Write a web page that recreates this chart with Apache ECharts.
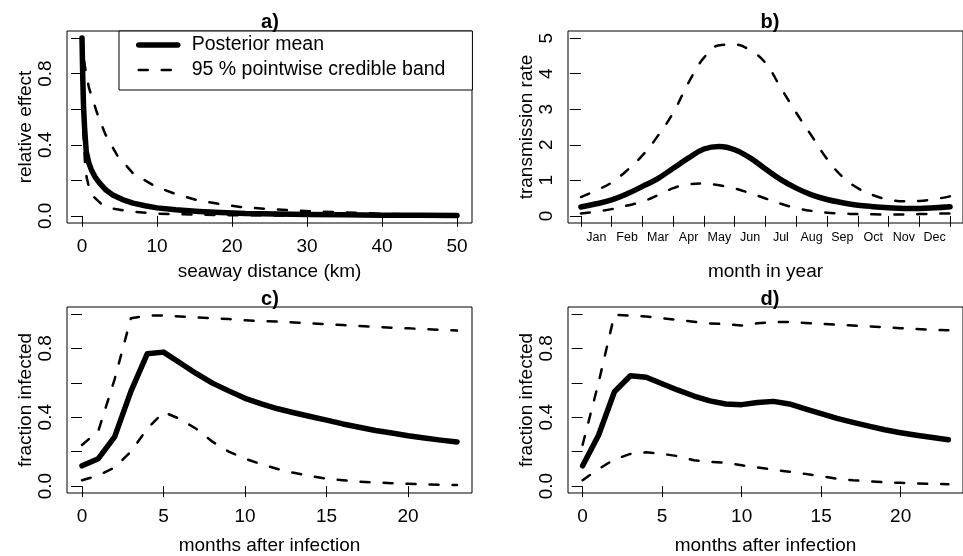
<!DOCTYPE html>
<html>
<head>
<meta charset="utf-8">
<script src="https://cdn.jsdelivr.net/npm/echarts@6/dist/echarts.min.js"></script>
<style>
html,body{margin:0;padding:0;background:#fff;}
#chart{width:963px;height:556px;}
</style>
</head>
<body>
<div id="chart"></div>
<script>
// ---------- Panel a: relative effect vs seaway distance ----------
const kmMean = [0, 0.1, 0.2, 0.35, 0.57, 0.9, 1.24, 1.8, 2.35, 3.2, 4.1, 5.4, 6.8, 8.4, 10, 12.5, 15.6, 18.5, 21.8, 26, 30, 35, 40, 45, 50];
const meanA  = [1.0, 0.78, 0.62, 0.49, 0.36, 0.30, 0.26, 0.215, 0.184, 0.145, 0.118, 0.092, 0.072, 0.057, 0.045, 0.034, 0.025, 0.019, 0.013, 0.010, 0.008, 0.006, 0.004, 0.003, 0.002];
const kmUpper = [0, 0.35, 0.93, 2.0, 3.1, 4.7, 6.8, 9.8, 12.8, 15.7, 18.6, 21.1, 24.4, 27.6, 31, 34.5, 40, 45, 50];
const upperA  = [1.0, 0.85, 0.72, 0.58, 0.46, 0.34, 0.24, 0.165, 0.118, 0.085, 0.065, 0.05, 0.04, 0.032, 0.025, 0.02, 0.012, 0.008, 0.005];
const kmLower = [0, 0.05, 0.1, 0.2, 0.4, 0.6, 0.85, 1.5, 2.5, 4, 6.5, 10, 15, 20, 30, 40, 50];
const lowerA  = [1.0, 0.85, 0.7, 0.45, 0.3, 0.22, 0.175, 0.11, 0.07, 0.042, 0.025, 0.013, 0.007, 0.004, 0.002, 0.001, 0.0];
const ticksA_x = [0, 10, 20, 30, 40, 50];
const ticks01 = [0, 0.2, 0.4, 0.6, 0.8, 1.0];
const labels01 = [0, 0.4, 0.8];

// ---------- Panel b: transmission rate vs month ----------
const monthNames = ['Jan','Feb','Mar','Apr','May','Jun','Jul','Aug','Sep','Oct','Nov','Dec'];
const monthPos = [0, 0.5, 1, 1.5, 2, 2.5, 3, 3.5, 4, 4.5, 5, 5.5, 6, 6.5, 7, 7.5, 8, 8.5, 9, 9.5, 10, 10.5, 11, 11.5, 12];
const meanB  = [0.25, 0.34, 0.45, 0.62, 0.83, 1.05, 1.34, 1.63, 1.88, 1.95, 1.86, 1.63, 1.32, 1.02, 0.78, 0.59, 0.46, 0.37, 0.30, 0.26, 0.23, 0.21, 0.21, 0.23, 0.26];
const upperB = [0.53, 0.72, 0.94, 1.28, 1.70, 2.25, 2.90, 3.75, 4.45, 4.80, 4.82, 4.66, 4.30, 3.60, 2.90, 2.25, 1.60, 1.10, 0.78, 0.58, 0.46, 0.41, 0.42, 0.47, 0.55];
const lowerB = [0.07, 0.12, 0.19, 0.29, 0.40, 0.58, 0.78, 0.89, 0.91, 0.86, 0.77, 0.64, 0.49, 0.34, 0.22, 0.14, 0.09, 0.065, 0.05, 0.045, 0.04, 0.04, 0.05, 0.06, 0.07];
const ticksB_x = [0,1,2,3,4,5,6,7,8,9,10,11,12];
const labelsB_x = [0.5,1.5,2.5,3.5,4.5,5.5,6.5,7.5,8.5,9.5,10.5,11.5];
const ticksB_y = [0,1,2,3,4,5];

// ---------- Panel c / d: fraction infected vs months after infection ----------
const monthsAfter = [0,1,2,3,4,5,6,7,8,9,10,11,12,13,14,15,16,17,18,19,20,21,22,23];
const meanC  = [0.118, 0.159, 0.286, 0.55, 0.768, 0.778, 0.716, 0.654, 0.598, 0.553, 0.51, 0.478, 0.449, 0.426, 0.404, 0.383, 0.361, 0.342, 0.323, 0.308, 0.292, 0.279, 0.267, 0.256];
const upperC = [0.239, 0.32, 0.62, 0.975, 0.99, 0.99, 0.985, 0.98, 0.975, 0.97, 0.963, 0.958, 0.955, 0.95, 0.945, 0.94, 0.935, 0.93, 0.925, 0.92, 0.916, 0.912, 0.907, 0.903];
const lowerC = [0.034, 0.062, 0.108, 0.20, 0.333, 0.43, 0.39, 0.333, 0.258, 0.20, 0.159, 0.127, 0.099, 0.077, 0.058, 0.043, 0.034, 0.026, 0.021, 0.017, 0.013, 0.01, 0.008, 0.006];
const meanD  = [0.118, 0.295, 0.548, 0.641, 0.632, 0.594, 0.557, 0.523, 0.495, 0.477, 0.473, 0.486, 0.492, 0.477, 0.449, 0.421, 0.393, 0.37, 0.348, 0.327, 0.31, 0.295, 0.282, 0.269];
const upperD = [0.24, 0.6, 0.995, 0.99, 0.985, 0.975, 0.965, 0.955, 0.945, 0.94, 0.932, 0.945, 0.953, 0.953, 0.947, 0.942, 0.937, 0.933, 0.928, 0.922, 0.917, 0.912, 0.908, 0.905];
const lowerD = [0.034, 0.099, 0.155, 0.187, 0.196, 0.187, 0.174, 0.15, 0.14, 0.136, 0.121, 0.108, 0.095, 0.084, 0.071, 0.058, 0.043, 0.034, 0.028, 0.022, 0.019, 0.015, 0.013, 0.011];
const ticksCD_x = [0, 5, 10, 15, 20];

// ---------- text ----------
const panelTitles = ['a)', 'b)', 'c)', 'd)'];
const legendNames = ['Posterior mean', '95 % pointwise credible band'];

const FONT = 'Liberation Sans, Arial, Helvetica, sans-serif';
const pairs = (xs, ys) => xs.map((x, i) => [x, ys[i]]);

const grids = [
  {left: 67,  top: 31,  width: 405, height: 192},
  {left: 568, top: 31,  width: 405, height: 192},
  {left: 67,  top: 307, width: 405, height: 192},
  {left: 568, top: 307, width: 405, height: 192}
].map(g => Object.assign({show: true, borderColor: '#000', borderWidth: 1, backgroundColor: 'transparent', containLabel: false}, g));

function xAxisOf(gi, min, max, tickVals, labelVals, name, fmt, labelSize, labelMargin, nameGap) {
  return {
    type: 'value', gridIndex: gi, min: min, max: max,
    axisLine: {show: false},
    splitLine: {show: false},
    axisTick: {show: true, inside: false, length: 11, lineStyle: {color: '#000', width: 1}, customValues: tickVals},
    axisLabel: {show: true, customValues: labelVals, color: '#000', fontFamily: FONT, fontSize: labelSize, margin: labelMargin, formatter: fmt, hideOverlap: false},
    name: name, nameLocation: 'middle', nameGap: nameGap,
    nameTextStyle: {color: '#000', fontFamily: FONT, fontSize: 19}
  };
}
function yAxisOf(gi, min, max, tickVals, labelVals, name, fmt) {
  return {
    type: 'value', gridIndex: gi, min: min, max: max,
    axisLine: {show: false},
    splitLine: {show: false},
    axisTick: {show: true, inside: false, length: 11, lineStyle: {color: '#000', width: 1}, customValues: tickVals},
    axisLabel: {show: true, customValues: labelVals, rotate: 90, color: '#000', fontFamily: FONT, fontSize: 19, margin: 12, formatter: fmt, hideOverlap: false},
    name: name, nameLocation: 'middle', nameGap: 32, nameRotate: 90,
    nameTextStyle: {color: '#000', fontFamily: FONT, fontSize: 19}
  };
}

const fmt1 = v => Number(v).toFixed(1);
const fmt0 = v => String(Math.round(v));
const fmtMonth = v => monthNames[Math.floor(v)];

const xAxes = [
  xAxisOf(0, -2, 52, ticksA_x, ticksA_x, 'seaway distance (km)', fmt0, 19, 14, 39),
  xAxisOf(1, -0.42, 12.42, ticksB_x, labelsB_x, 'month in year', fmtMonth, 12.5, 8, 39),
  xAxisOf(2, -0.92, 23.92, ticksCD_x, ticksCD_x, 'months after infection', fmt0, 19, 14, 43),
  xAxisOf(3, -0.92, 23.92, ticksCD_x, ticksCD_x, 'months after infection', fmt0, 19, 14, 43)
];
const yAxes = [
  yAxisOf(0, -0.04, 1.04, ticks01, labels01, 'relative effect', fmt1),
  yAxisOf(1, -0.2, 5.2, ticksB_y, ticksB_y, 'transmission rate', fmt0),
  yAxisOf(2, -0.04, 1.04, ticks01, labels01, 'fraction infected', fmt1),
  yAxisOf(3, -0.04, 1.04, ticks01, labels01, 'fraction infected', fmt1)
];

const meanStyle = {color: '#000', width: 5.5, cap: 'round', join: 'round'};
const bandStyle = {color: '#000', width: 2.5, type: [9, 14], cap: 'round', join: 'round'};

function line(gi, name, data, style, smooth) {
  return {
    type: 'line', name: name, xAxisIndex: gi, yAxisIndex: gi,
    data: data, showSymbol: false, symbol: 'none', smooth: smooth || false,
    lineStyle: style, itemStyle: {color: '#000'}, silent: true, clip: true,
    z: style === meanStyle ? 3 : 2
  };
}

const series = [
  line(0, legendNames[0], pairs(kmMean, meanA), meanStyle),
  line(0, legendNames[1], pairs(kmUpper, upperA), bandStyle),
  line(0, legendNames[1], pairs(kmLower, lowerA), bandStyle),
  line(1, legendNames[0], pairs(monthPos, meanB), meanStyle, 0.4),
  line(1, legendNames[1], pairs(monthPos, upperB), bandStyle, 0.4),
  line(1, legendNames[1], pairs(monthPos, lowerB), bandStyle, 0.4),
  line(2, legendNames[0], pairs(monthsAfter, meanC), meanStyle),
  line(2, legendNames[1], pairs(monthsAfter, upperC), bandStyle),
  line(2, legendNames[1], pairs(monthsAfter, lowerC), bandStyle),
  line(3, legendNames[0], pairs(monthsAfter, meanD), meanStyle),
  line(3, legendNames[1], pairs(monthsAfter, upperD), bandStyle),
  line(3, legendNames[1], pairs(monthsAfter, lowerD), bandStyle)
];

const titleCenters = [[270, 22.5], [770, 22.5], [270, 299.5], [770, 299.5]];
const graphic = panelTitles.map((t, i) => ({
  type: 'text', silent: true, z: 10,
  x: titleCenters[i][0], y: titleCenters[i][1],
  style: {text: t, fill: '#000', font: 'bold 20px ' + FONT, textAlign: 'center', textVerticalAlign: 'middle'}
}));

const chart = echarts.init(document.getElementById('chart'), null, {renderer: 'canvas'});
chart.setOption({
  animation: false,
  backgroundColor: '#fff',
  grid: grids,
  xAxis: xAxes,
  yAxis: yAxes,
  series: series,
  graphic: graphic,
  legend: {
    show: true, orient: 'vertical', left: 119, top: 31,
    data: legendNames, selectedMode: false,
    itemWidth: 39, itemHeight: 14, itemGap: 5,
    padding: [4, 27, 10, 17],
    borderColor: '#000', borderWidth: 1, borderRadius: 0,
    backgroundColor: '#fff',
    textStyle: {color: '#000', fontFamily: FONT, fontSize: 19.5, padding: [0, 0, 0, 9]},
    itemStyle: {color: 'rgba(0,0,0,0)', borderWidth: 0, opacity: 0},
    lineStyle: {width: 'inherit', type: 'inherit', cap: 'inherit', opacity: 1}
  }
});
</script>
</body>
</html>
